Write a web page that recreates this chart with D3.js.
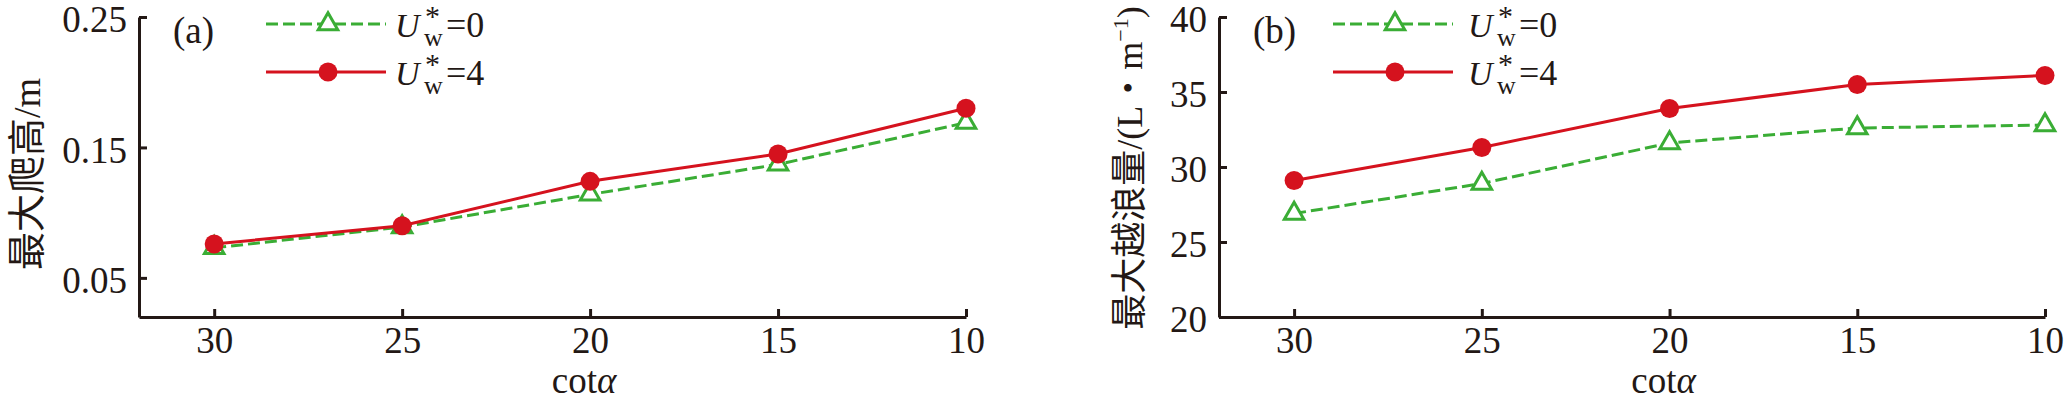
<!DOCTYPE html>
<html><head><meta charset="utf-8">
<script src="https://cdn.jsdelivr.net/npm/d3@7"></script>
<style>body{margin:0;background:#fff}</style>
</head><body>
<svg id="chart" width="2067" height="400"></svg>
<script>
// ---- data ----
const cotAlpha = [30, 25, 20, 15, 10];
const xTickValues = [30, 25, 20, 15, 10];
const runupU0 = [0.073, 0.089, 0.114, 0.137, 0.169];
const runupU4 = [0.076, 0.090, 0.124, 0.145, 0.180];
const overtopU0 = [26.9, 28.9, 31.6, 32.6, 32.8];
const overtopU4 = [29.1, 31.3, 33.9, 35.5, 36.1];
const runupTicks = [0.05, 0.15, 0.25];
const overtopTicks = [20, 25, 30, 35, 40];
const legendValues = ["0", "4"];
const panelLabels = ["(a)", "(b)"];
const xTitle = "cot";
const yTitleA = ["最大爬高", "/m"];
const yTitleB = ["最大越浪量", "/(L", "・", "m"];

// ---- styles ----
const INK = "#231815";
const GREEN = "#3aad35";
const RED = "#d5121e";
const SERIF = '"Liberation Serif"';
const CJK = '"Noto Sans CJK SC"';
const svg = d3.select("#chart");

function txt(sel, size, fam) {
  return sel.style("font-family", fam || SERIF).style("font-size", size + "px").attr("fill", INK);
}

function panel(cfg) {
  const g = svg.append("g");
  const x = d3.scaleLinear().domain([32, 10]).range([cfg.left, cfg.right]);
  const y = d3.scaleLinear().domain(cfg.yDomain).range([317, 17]);

  const xAxis = d3.axisBottom(x).tickValues(xTickValues).tickFormat(d3.format("d"))
    .tickSizeInner(-8).tickSizeOuter(0).tickPadding(10);
  const yAxis = d3.axisLeft(y).tickValues(cfg.yTicks).tickFormat(cfg.fmt)
    .tickSizeInner(-8).tickSizeOuter(0).tickPadding(12);

  const gx = g.append("g").attr("transform", "translate(0,317)").call(xAxis);
  const gy = g.append("g").attr("transform", `translate(${cfg.left},0)`).call(yAxis);
  [gx, gy].forEach(a => {
    a.attr("font-family", null).attr("font-size", null);
    a.select(".domain").attr("stroke", INK).attr("stroke-width", 3);
    a.selectAll(".tick line").attr("stroke", INK).attr("stroke-width", 3);
    txt(a.selectAll(".tick text"), 37);
  });
  gy.selectAll(".tick text").attr("dy", "0.4em");

  // x title
  const xt = txt(g.append("text"), 37).attr("x", x(20) - 6).attr("y", 393).attr("text-anchor", "middle");
  xt.append("tspan").text(xTitle);
  xt.append("tspan").style("font-style", "italic").text("α");

  // y title
  const yt = txt(g.append("text"), cfg.yTitleSize)
    .attr("transform", `translate(${cfg.yTitleX},${cfg.yTitleY}) rotate(-90)`)
    .attr("text-anchor", "middle");
  const parts = cfg.yTitle;
  yt.append("tspan").style("font-family", CJK).text(parts[0]);
  yt.append("tspan").style("font-family", SERIF).text(parts[1]);
  if (parts.length > 2) {
    yt.append("tspan").style("font-family", CJK).text(parts[2]);
    yt.append("tspan").style("font-family", SERIF).text(parts[3]);
    yt.append("tspan").style("font-family", SERIF).attr("dy", -14).style("font-size", "22px").text("−1");
    yt.append("tspan").style("font-family", SERIF).attr("dy", 14).text(")");
  }

  // series
  const line = d3.line().x((d, i) => x(cotAlpha[i])).y(d => y(d));
  const tri = d3.symbol().type(d3.symbolTriangle).size(165);
  g.append("path").datum(cfg.s0).attr("d", line).attr("fill", "none")
    .attr("stroke", GREEN).attr("stroke-width", 3).attr("stroke-dasharray", "12,5");
  g.selectAll(".tri").data(cfg.s0).enter().append("path")
    .attr("d", tri).attr("transform", (d, i) => `translate(${x(cotAlpha[i])},${y(d)})`)
    .attr("fill", "#fff").attr("stroke", GREEN).attr("stroke-width", 3);
  g.append("path").datum(cfg.s4).attr("d", line).attr("fill", "none")
    .attr("stroke", RED).attr("stroke-width", 3);
  g.selectAll(".dot").data(cfg.s4).enter().append("circle")
    .attr("cx", (d, i) => x(cotAlpha[i])).attr("cy", d => y(d)).attr("r", 9.5)
    .attr("fill", RED);

  // panel label
  txt(g.append("text"), 37).attr("x", cfg.left + 34).attr("y", 43).text(cfg.label);

  // legend
  const L = cfg.legend;
  const rows = [{y: 24, color: GREEN, dash: "12,5", sym: "tri", v: legendValues[0]},
                {y: 72, color: RED, dash: null, sym: "dot", v: legendValues[1]}];
  rows.forEach(r => {
    g.append("line").attr("x1", L.x1).attr("x2", L.x2).attr("y1", r.y).attr("y2", r.y)
      .attr("stroke", r.color).attr("stroke-width", 3).attr("stroke-dasharray", r.dash);
    const mx = (L.x1 + L.x2) / 2 + 2;
    if (r.sym === "tri") {
      g.append("path").attr("d", tri).attr("transform", `translate(${mx},${r.y})`)
        .attr("fill", "#fff").attr("stroke", r.color).attr("stroke-width", 3);
    } else {
      g.append("circle").attr("cx", mx).attr("cy", r.y).attr("r", 9.5).attr("fill", r.color);
    }
    const tx = L.tx, base = r.y + 13;
    const t = txt(g.append("text"), 36).attr("x", tx).attr("y", base);
    t.append("tspan").style("font-style", "italic").style("font-size", "34px").text("U");
    t.append("tspan").attr("x", tx + 29).attr("dy", 9).style("font-size", "26px").text("w");
    t.append("tspan").attr("x", tx + 30).attr("dy", -20).style("font-size", "30px").text("*");
    t.append("tspan").attr("x", tx + 51).attr("dy", 11).text("=" + r.v);
  });
}

panel({left: 139, right: 966, yDomain: [0.02, 0.25], yTicks: runupTicks, fmt: d3.format(".2f"),
  s0: runupU0, s4: runupU4, yTitle: yTitleA, yTitleX: 40, yTitleY: 174, yTitleSize: 38,
  label: panelLabels[0], legend: {x1: 266, x2: 386, tx: 395}});
panel({left: 1219, right: 2045, yDomain: [20, 40], yTicks: overtopTicks, fmt: d3.format("d"),
  s0: overtopU0, s4: overtopU4, yTitle: yTitleB, yTitleX: 1142, yTitleY: 168, yTitleSize: 36,
  label: panelLabels[1], legend: {x1: 1333, x2: 1453, tx: 1468}});
</script>
</body></html>
